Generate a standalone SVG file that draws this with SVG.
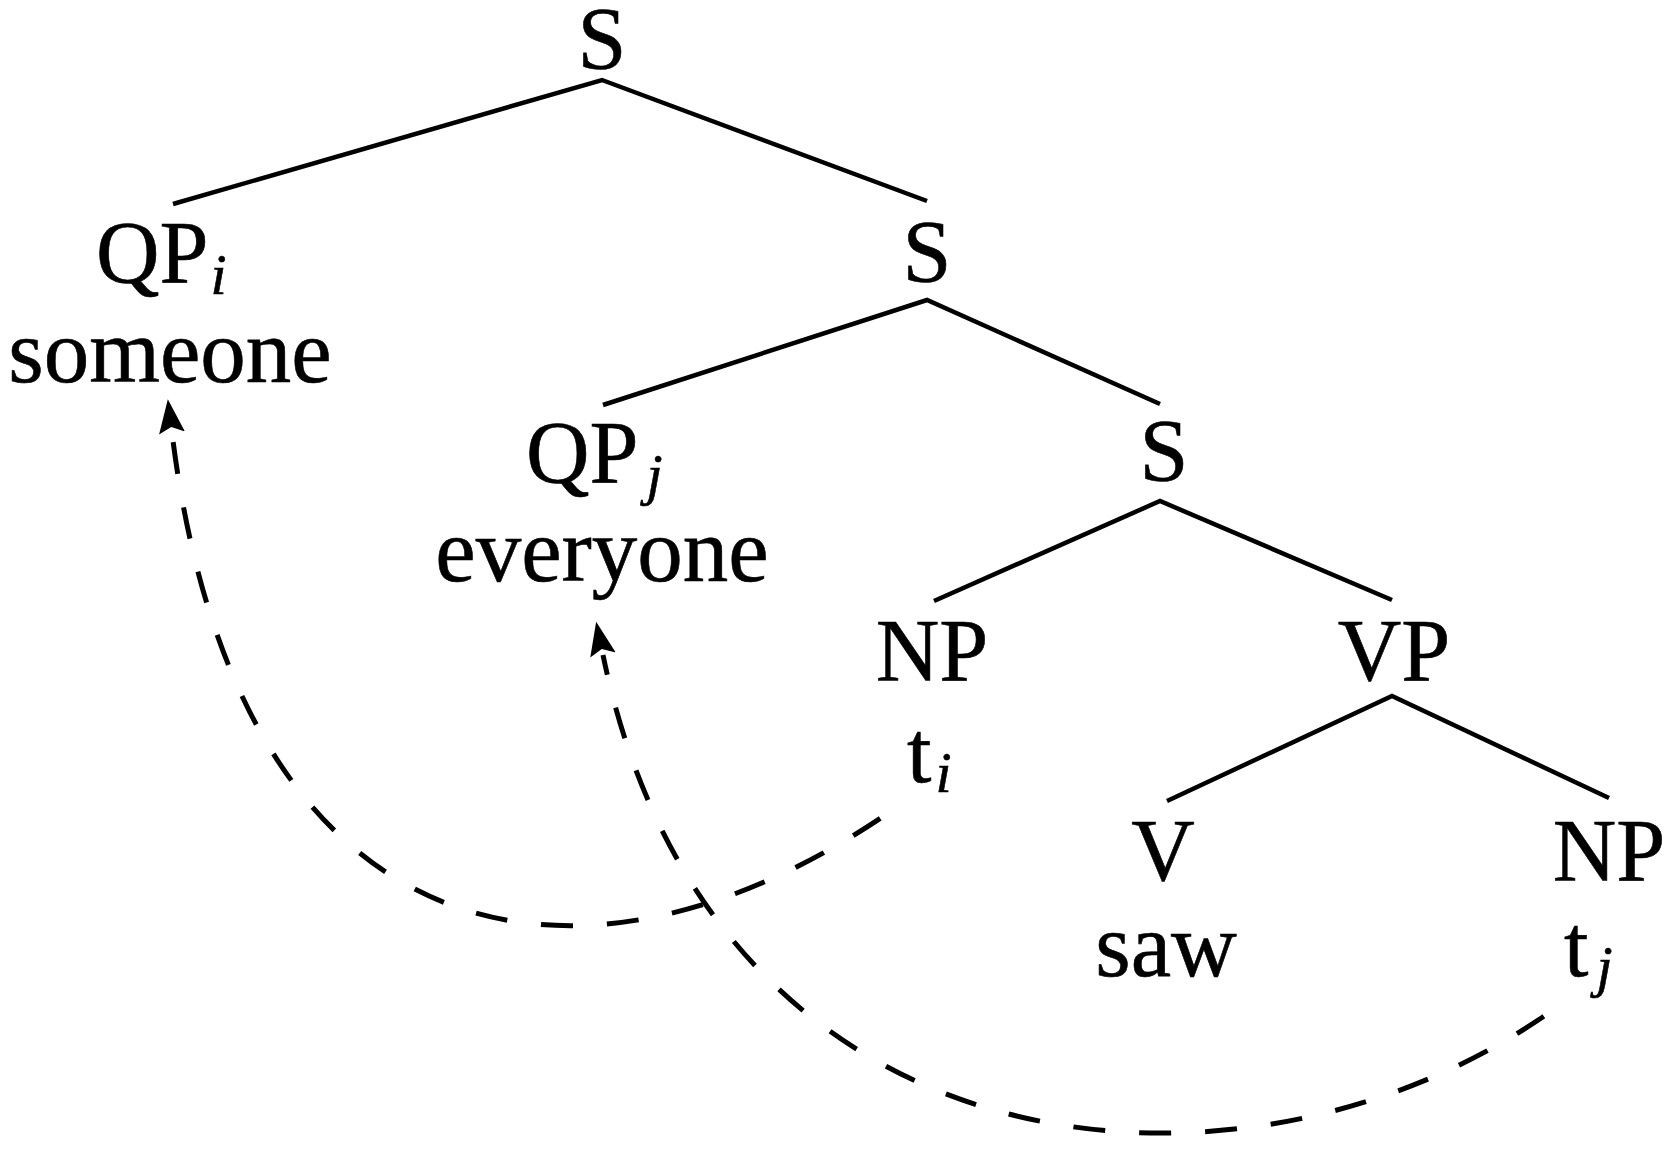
<svg xmlns="http://www.w3.org/2000/svg" width="1679" height="1153" viewBox="0 0 1679 1153">
<style>
  text { font-family: "Liberation Serif", "Times New Roman", serif; font-size: 88px; fill: #000; stroke: #000; stroke-width: 0.6; }
  .word { font-size: 91px; }
  .sub { font-style: italic; font-size: 58px; }
  .mid { text-anchor: middle; }
  .edge { fill: none; stroke: #000; stroke-width: 4.5; stroke-linejoin: miter; stroke-linecap: butt; }
  .move { fill: none; stroke: #000; stroke-width: 5; stroke-dasharray: 32 34; stroke-linecap: butt; marker-start: url(#arrow); }
</style>
<defs>
  <marker id="arrow" markerUnits="userSpaceOnUse" viewBox="0 -14 34 28" refX="0" refY="0" markerWidth="34" markerHeight="28" orient="auto-start-reverse">
    <path d="M0,-13 L34,0 L0,13 L6,0 Z" fill="#000"/>
  </marker>
</defs>
<rect width="1679" height="1153" fill="#fff"/>
<g id="connectors">
  <polyline class="edge" points="173,204 602,80 927,201"/>
  <polyline class="edge" points="603,405 927,300 1160,404"/>
  <polyline class="edge" points="934,601 1160,501 1392,600"/>
  <polyline class="edge" points="1167,801 1392,696 1609,798"/>
  <path id="move-i" class="move" style="stroke-dashoffset:57" d="M172,433 C238,967 585,1022 891,811"/>
  <path id="move-j" class="move" style="stroke-dashoffset:12" d="M603,655 C712,1185 1245,1226 1550,1012"/>
</g>
<g id="node-S1"><text class="mid" x="602" y="68">S</text></g>
<g id="node-QPi"><text x="96" y="282">QP<tspan class="sub" dx="2" dy="12">i</tspan></text>
  <text class="mid word" x="170" y="382">someone</text></g>
<g id="node-S2"><text class="mid" x="927" y="281">S</text></g>
<g id="node-QPj"><text x="526" y="482">QP<tspan class="sub" dx="8" dy="12">j</tspan></text>
  <text class="mid word" x="602" y="581">everyone</text></g>
<g id="node-S3"><text class="mid" x="1164" y="480">S</text></g>
<g id="node-NP1"><text class="mid" x="932" y="680">NP</text>
  <text x="907" y="782">t<tspan class="sub" dx="4" dy="10">i</tspan></text></g>
<g id="node-VP"><text class="mid" x="1394" y="680">VP</text></g>
<g id="node-V"><text class="mid" x="1163" y="880">V</text>
  <text class="mid word" x="1166" y="976">saw</text></g>
<g id="node-NP2"><text class="mid" x="1609" y="880">NP</text>
  <text x="1564" y="976">t<tspan class="sub" dx="8" dy="10">j</tspan></text></g>
</svg>
